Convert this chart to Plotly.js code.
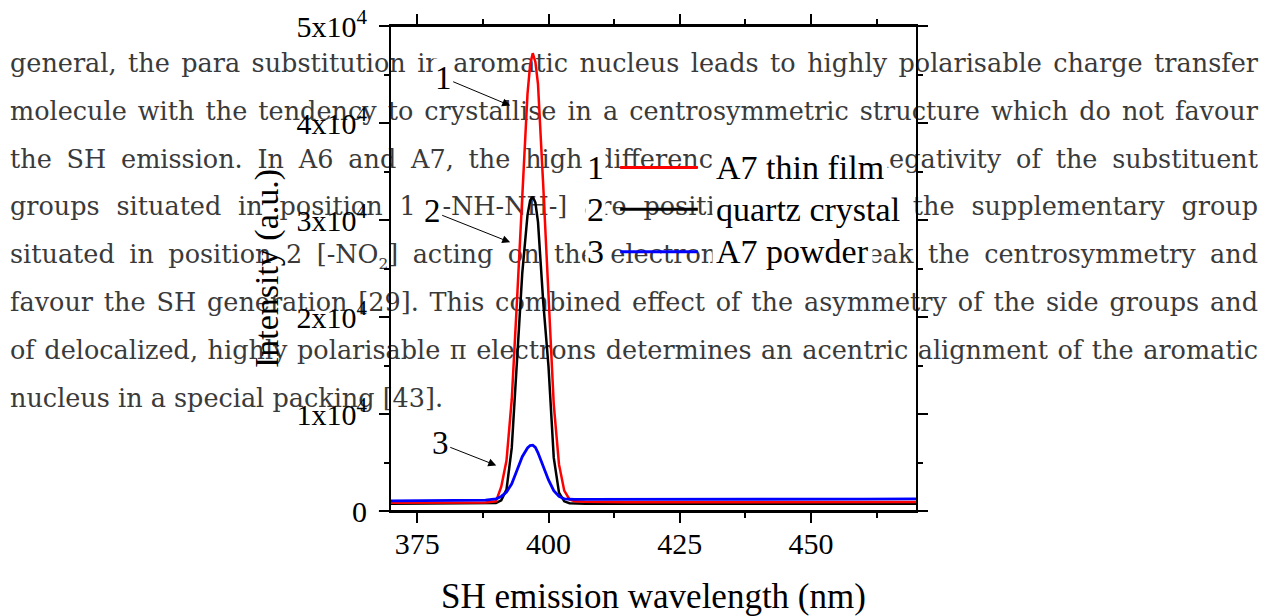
<!DOCTYPE html>
<html>
<head>
<meta charset="utf-8">
<script src="https://cdn.plot.ly/plotly-3.0.1.min.js"></script>
<style>
  html, body { margin: 0; padding: 0; background: #fff; }
  #page { position: relative; width: 1270px; height: 616px; overflow: hidden; }
  #doc { position: absolute; left: 10px; top: 40px; width: 1248px; z-index: 0;
         font-family: "DejaVu Serif", serif; font-size: 25.5px; color: #3a3a3a; }
  #doc .ln { height: 47.8px; line-height: 47.8px; text-align: justify; text-align-last: justify; white-space: nowrap; }
  #doc .ln.last { text-align: left; text-align-last: left; }
  #doc sub { font-size: 60%; line-height: 0; }
  #chart { position: absolute; left: 0; top: 0; width: 1270px; height: 616px; z-index: 1; }
</style>
</head>
<body>
<div id="page">
  <div id="doc"></div>
  <div id="chart"></div>
</div>
<script>
// ---- chart data ----
const wavelength = [370, 375, 380, 385, 388, 390, 391, 392, 393, 394, 395, 396, 396.5, 397, 397.5, 398, 399, 400, 401, 402, 403, 404, 405, 407, 410, 415, 420, 430, 440, 450, 460, 470];
const thinFilm   = [860, 860, 870, 870, 880, 1000, 2500, 5200, 11500, 21700, 33000, 43000, 46000, 47200, 46300, 44000, 33500, 21700, 11000, 4800, 2100, 1200, 1000, 950, 920, 900, 900, 900, 900, 910, 920, 930];
const quartz     = [760, 760, 770, 780, 790, 820, 1100, 2200, 6500, 16000, 24500, 30500, 32000, 32400, 31800, 29800, 21500, 14900, 5500, 1900, 1000, 800, 760, 740, 740, 740, 740, 740, 740, 750, 750, 760];
const powder     = [1050, 1060, 1080, 1100, 1120, 1250, 1500, 1950, 2800, 4200, 5600, 6500, 6750, 6780, 6550, 6000, 4650, 3200, 2100, 1500, 1250, 1200, 1200, 1200, 1200, 1200, 1180, 1170, 1180, 1200, 1220, 1250];
const seriesNames = ["A7 thin film", "quartz crystal", "A7 powder"];
const seriesNumbers = ["1", "2", "3"];
const xTickVals = [375, 400, 425, 450];
const yTickVals = [0, 10000, 20000, 30000, 40000, 50000];
const yTickText = ["0", "1x10<sup>4</sup>", "2x10<sup>4</sup>", "3x10<sup>4</sup>", "4x10<sup>4</sup>", "5x10<sup>4</sup>"];
const xTitle = "SH emission wavelength (nm)";
const yTitle = "Intensity (a.u.)";

// ---- surrounding document text ----
const docLines = [
  "general, the para substitution in aromatic nucleus leads to highly polarisable charge transfer",
  "molecule with the tendency to crystallise in a centrosymmetric structure which do not favour",
  "the SH emission. In A6 and A7, the high difference in electronegativity of the substituent",
  "groups situated in position 1 [-NH-NH-] are positioned para to the supplementary group",
  "situated in position 2 [-NO<sub>2</sub>] acting on the electronic cloud break the centrosymmetry and",
  "favour the SH generation [29]. This combined effect of the asymmetry of the side groups and",
  "of delocalized, highly polarisable \u03c0 electrons determines an acentric alignment of the aromatic",
  "nucleus in a special packing [43]."
];
const doc = document.getElementById('doc');
docLines.forEach((t, i) => {
  const d = document.createElement('div');
  d.className = 'ln' + (i === docLines.length - 1 ? ' last' : '');
  d.innerHTML = t;
  doc.appendChild(d);
});

const FONT = "Liberation Serif, Times New Roman, serif";
const colors = ["#ff0000", "#000000", "#0000ff"];

const traces = [
  {x: wavelength, y: quartz, name: seriesNames[1], mode: 'lines', line: {color: colors[1], width: 2.5}},
  {x: wavelength, y: thinFilm, name: seriesNames[0], mode: 'lines', line: {color: colors[0], width: 2.5}},
  {x: wavelength, y: powder, name: seriesNames[2], mode: 'lines', line: {color: colors[2], width: 2.8}}
];

// legend built by hand (paper coordinates)
const legX0 = 0.4365, legX1 = 0.5844, numX = 0.3889, txtX = 0.6117;
const legY = [0.7081, 0.6222, 0.5347];

const shapes = [
  {type: 'line', xref: 'paper', yref: 'paper', x0: -0.021, x1: 1.021, y0: 1, y1: 1, line: {color: '#000', width: 2}},
  {type: 'line', xref: 'paper', yref: 'paper', x0: -0.023, x1: 1.021, y0: 0, y1: 0, line: {color: '#000', width: 2}}
];
const annotations = [];
seriesNames.forEach((n, i) => {
  shapes.push({type: 'line', xref: 'paper', yref: 'paper', x0: legX0, x1: legX1, y0: legY[i], y1: legY[i], line: {color: colors[i], width: 3}});
  annotations.push({xref: 'paper', yref: 'paper', x: numX, y: legY[i], text: seriesNumbers[i], showarrow: false,
    xanchor: 'center', yanchor: 'middle', bgcolor: '#ffffff', borderpad: 1, font: {family: FONT, size: 34, color: '#000'}});
  annotations.push({xref: 'paper', yref: 'paper', x: txtX, y: legY[i], text: n, showarrow: false,
    xanchor: 'left', yanchor: 'middle', bgcolor: '#ffffff', borderpad: 3, font: {family: FONT, size: 34, color: '#000'}});
});
// curve labels with arrows
const arrowTips = [[392.7, 41800, -67, -28], [392.7, 27700, -78, -31], [390.05, 4700, -56, -22]];
arrowTips.forEach((a, i) => {
  annotations.push({x: a[0], y: a[1], ax: a[2], ay: a[3], text: seriesNumbers[i], showarrow: true,
    arrowhead: 2, arrowsize: 1.6, arrowwidth: 1, arrowcolor: '#000', bgcolor: '#ffffff',
    font: {family: FONT, size: 33, color: '#000'}});
});

const layout = {
  width: 1270, height: 616,
  margin: {l: 391, r: 354, t: 26, b: 105, pad: 0},
  paper_bgcolor: 'rgba(0,0,0,0)', plot_bgcolor: 'rgba(0,0,0,0)',
  showlegend: false,
  font: {family: FONT, color: '#000'},
  xaxis: {
    range: [370, 470], tickvals: xTickVals, ticks: 'outside', ticklen: 10, tickwidth: 2, tickcolor: '#000',
    minor: {tickvals: [387.5, 412.5, 437.5, 462.5], ticks: 'outside', ticklen: 5, tickwidth: 2, tickcolor: '#000'},
    showline: true, linewidth: 2, linecolor: '#000', mirror: 'ticks', showgrid: false, zeroline: false,
    tickfont: {family: FONT, size: 30, color: '#000'}, ticklabelstandoff: -5,
    title: {text: xTitle, font: {family: FONT, size: 35, color: '#000'}, standoff: 26}
  },
  yaxis: {
    range: [0, 50000], tickvals: yTickVals, ticktext: yTickText, ticks: 'outside', ticklen: 10, tickwidth: 2, tickcolor: '#000',
    minor: {tickvals: [5000, 15000, 25000, 35000, 45000], ticks: 'outside', ticklen: 5, tickwidth: 2, tickcolor: '#000'},
    showline: true, linewidth: 2, linecolor: '#000', mirror: 'ticks', showgrid: false, zeroline: false,
    tickfont: {family: FONT, size: 30, color: '#000'}, ticklabelstandoff: 6,
    title: {text: yTitle, font: {family: FONT, size: 34, color: '#000'}, standoff: 8}
  },
  shapes: shapes,
  annotations: annotations
};

Plotly.newPlot('chart', traces, layout, {staticPlot: true, displayModeBar: false});
</script>
</body>
</html>
